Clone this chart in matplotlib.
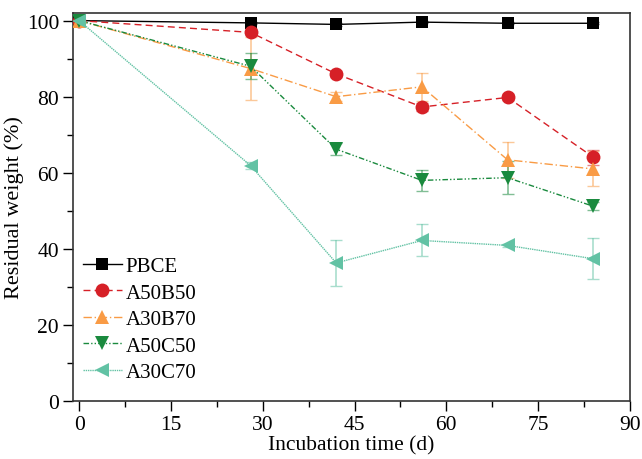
import matplotlib
matplotlib.use("Agg")
import matplotlib.pyplot as plt
from matplotlib.ticker import MultipleLocator

plt.rcParams['font.family'] = ['Liberation Serif', 'DejaVu Serif']

days = [0, 28, 42, 56, 70, 84]
labels = ["PBCE", "A50B50", "A30B70", "A50C50", "A30C70"]
pbce = [100, 99.4, 99.0, 99.6, 99.3, 99.3]
pbce_err = [0, 0.3, 0.3, 0.3, 0.3, 0.3]
a50b50 = [100, 96.9, 86.0, 77.3, 79.8, 64.1]
a50b50_err = [0, 0.8, 0.8, 1.0, 0.8, 2.0]
a30b70 = [100, 87.4, 80.0, 82.6, 63.4, 61.0]
a30b70_err = [0, 8.3, 1.2, 3.7, 4.8, 4.6]
a50c50 = [100, 88.0, 66.2, 58.0, 58.7, 51.2]
a50c50_err = [0, 3.4, 1.5, 2.7, 4.4, 1.0]
a30c70 = [100, 61.9, 36.3, 42.2, 40.9, 37.4]
a30c70_err = [0, 0.8, 6.1, 4.2, 0.5, 5.4]

series = [pbce, a50b50, a30b70, a50c50, a30c70]
errs = [pbce_err, a50b50_err, a30b70_err, a50c50_err, a30c70_err]
colors = ["#000000", "#d62027", "#f99b45", "#1a8a3e", "#62c2a4"]
markers = ["s", "o", "^", "v", "<"]
msizes = [9, 10, 10.5, 10.5, 10.5]
styles = ["-", (0, (5, 3)), (0, (6, 2, 1, 2)), (0, (4, 1.5, 1, 1.5, 1, 1.5)), (0, (1, 0.6))]

fig = plt.figure(figsize=(6.42, 4.60), dpi=100)
ax = fig.add_axes([73/642, 1-402/460, (630-73)/642, (402-14)/460])

for y, e, c, m, ms, ls, lab in zip(series, errs, colors, markers, msizes, styles, labels):
    ax.errorbar(days, y, yerr=e, fmt='none', ecolor=c, alpha=0.55, elinewidth=1.2,
                capsize=4, capthick=1.0, zorder=2)
    ax.plot(days, y, color=c, linestyle=ls, linewidth=1.0, marker=m, markersize=ms,
            markeredgewidth=0, label=lab, zorder=3)

ax.set_xlim(-1, 90)
ax.set_ylim(0, 102)
ax.xaxis.set_major_locator(MultipleLocator(15))
ax.xaxis.set_minor_locator(MultipleLocator(7.5))
ax.yaxis.set_major_locator(MultipleLocator(20))
ax.yaxis.set_minor_locator(MultipleLocator(10))
ax.tick_params(which='major', direction='out', length=7, width=1.0, labelsize=15.5,
               pad=3, top=False, right=False)
ax.tick_params(which='minor', direction='out', length=4, width=1.0, top=False, right=False)
for s in ax.spines.values():
    s.set_linewidth(1.2)
    s.set_color('#333333')
ax.set_xlabel("Incubation time (d)", fontsize=15.5, labelpad=1)
ax.set_ylabel("Residual weight (%)", fontsize=16, labelpad=2)

ax.legend(loc='upper left', bbox_to_anchor=(-0.0125, 0.415), frameon=False, fontsize=15,
          handlelength=1.9, handletextpad=0.15, labelspacing=0.33, borderaxespad=0.4)

fig.savefig("out.png", dpi=100)
